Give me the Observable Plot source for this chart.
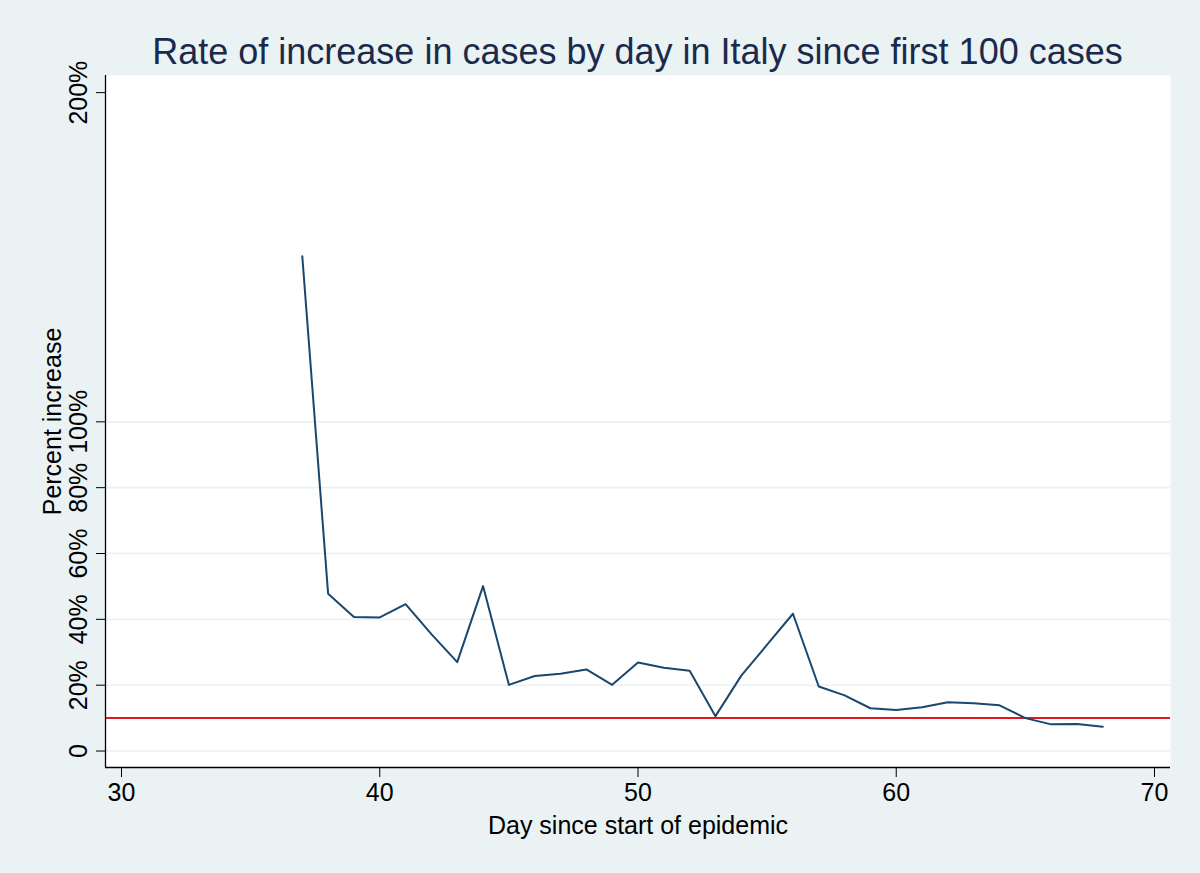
<!DOCTYPE html>
<html>
<head>
<meta charset="utf-8">
<script src="https://cdn.jsdelivr.net/npm/d3@7"></script>
<script src="https://cdn.jsdelivr.net/npm/@observablehq/plot@0.6"></script>
<style>
  html, body { margin: 0; padding: 0; background: #EAF2F3; }
  body { width: 1200px; height: 873px; overflow: hidden; font-family: "Liberation Sans", Arial, sans-serif; }
  #title { height: 62px; position: relative; }
  #title span { position: absolute; left: 105px; width: 1065px; top: 34px; text-align: center;
    font-size: 36px; line-height: 1; color: #1a2a4c; white-space: nowrap; }
  svg { overflow: visible; }
</style>
</head>
<body>
<div id="title"><span>Rate of increase in cases by day in Italy since first 100 cases</span></div>
<div id="chart"></div>
<script>
// Data
const days = [37, 38, 39, 40, 41, 42, 43, 44, 45, 46, 47, 48, 49, 50, 51, 52, 53,
              54, 55, 56, 57, 58, 59, 60, 61, 62, 63, 64, 65, 66, 67, 68];
const pctIncrease = [150.3, 47.8, 40.7, 40.6, 44.6, 35.5, 27.0, 50.1, 20.1, 22.8, 23.5, 24.8, 20.1, 26.9, 25.3, 24.4, 10.6,
                     22.9, 32.3, 41.7, 19.6, 16.9, 13.0, 12.5, 13.3, 14.8, 14.5, 13.9, 10.0, 8.1, 8.2, 7.4];
const threshold = [10];
const xTicks = [30, 40, 50, 60, 70];
const yTicks = [0, 20, 40, 60, 80, 100, 200];
const yGrid = [0, 20, 40, 60, 80, 100];
const yTickLabels = ["0", "20%", "40%", "60%", "80%", "100%", "200%"];
const xDomain = [29.38, 70.62];
const yDomain = [-5, 205.2];

const series = days.map((d, i) => ({day: d, pct: pctIncrease[i]}));
const yLabelRows = yTicks.map((v, i) => ({v, t: yTickLabels[i]}));

const chart = Plot.plot({
  width: 1200,
  height: 811,
  marginLeft: 105,
  marginRight: 30,
  marginTop: 13,
  marginBottom: 106,
  style: {background: "transparent", fontFamily: "'Liberation Sans', Arial, sans-serif", color: "#000"},
  x: {domain: xDomain},
  y: {domain: yDomain},
  marks: [
    Plot.frame({fill: "white", stroke: "none"}),
    Plot.gridY(yGrid, {stroke: "#EAF2F3", strokeOpacity: 1, strokeWidth: 1.6}),
    Plot.ruleY(threshold, {stroke: "#e3181c", strokeWidth: 2}),
    Plot.line(series, {x: "day", y: "pct", stroke: "#1a476f", strokeWidth: 2}),
    Plot.ruleY([yDomain[0]], {stroke: "#000", strokeWidth: 1.3}),
    Plot.ruleX([xDomain[0]], {stroke: "#000", strokeWidth: 1.3}),
    Plot.axisX(xTicks, {tickSize: 10, tickPadding: 6, fontSize: 25,
      stroke: "#000", color: "#000", label: null, tickFormat: d => String(d)}),
    Plot.axisX({ticks: [], tickSize: 0, fontSize: 25, label: "Day since start of epidemic", labelAnchor: "center",
      labelArrow: "none", labelOffset: 66, color: "#000"}),
    Plot.axisY(yTicks, {tickSize: 9, tickFormat: () => "", label: null, stroke: "#000"}),
    Plot.text(yLabelRows, {y: "v", text: "t", frameAnchor: "left", rotate: -90, dx: -27,
      fontSize: 25, fill: "#000", textAnchor: "middle", lineAnchor: "middle"}),
    Plot.text(["Percent increase"], {frameAnchor: "left", rotate: -90, dx: -53,
      fontSize: 25, fill: "#000", textAnchor: "middle", lineAnchor: "middle"})
  ]
});
document.getElementById("chart").appendChild(chart);
</script>
</body>
</html>
